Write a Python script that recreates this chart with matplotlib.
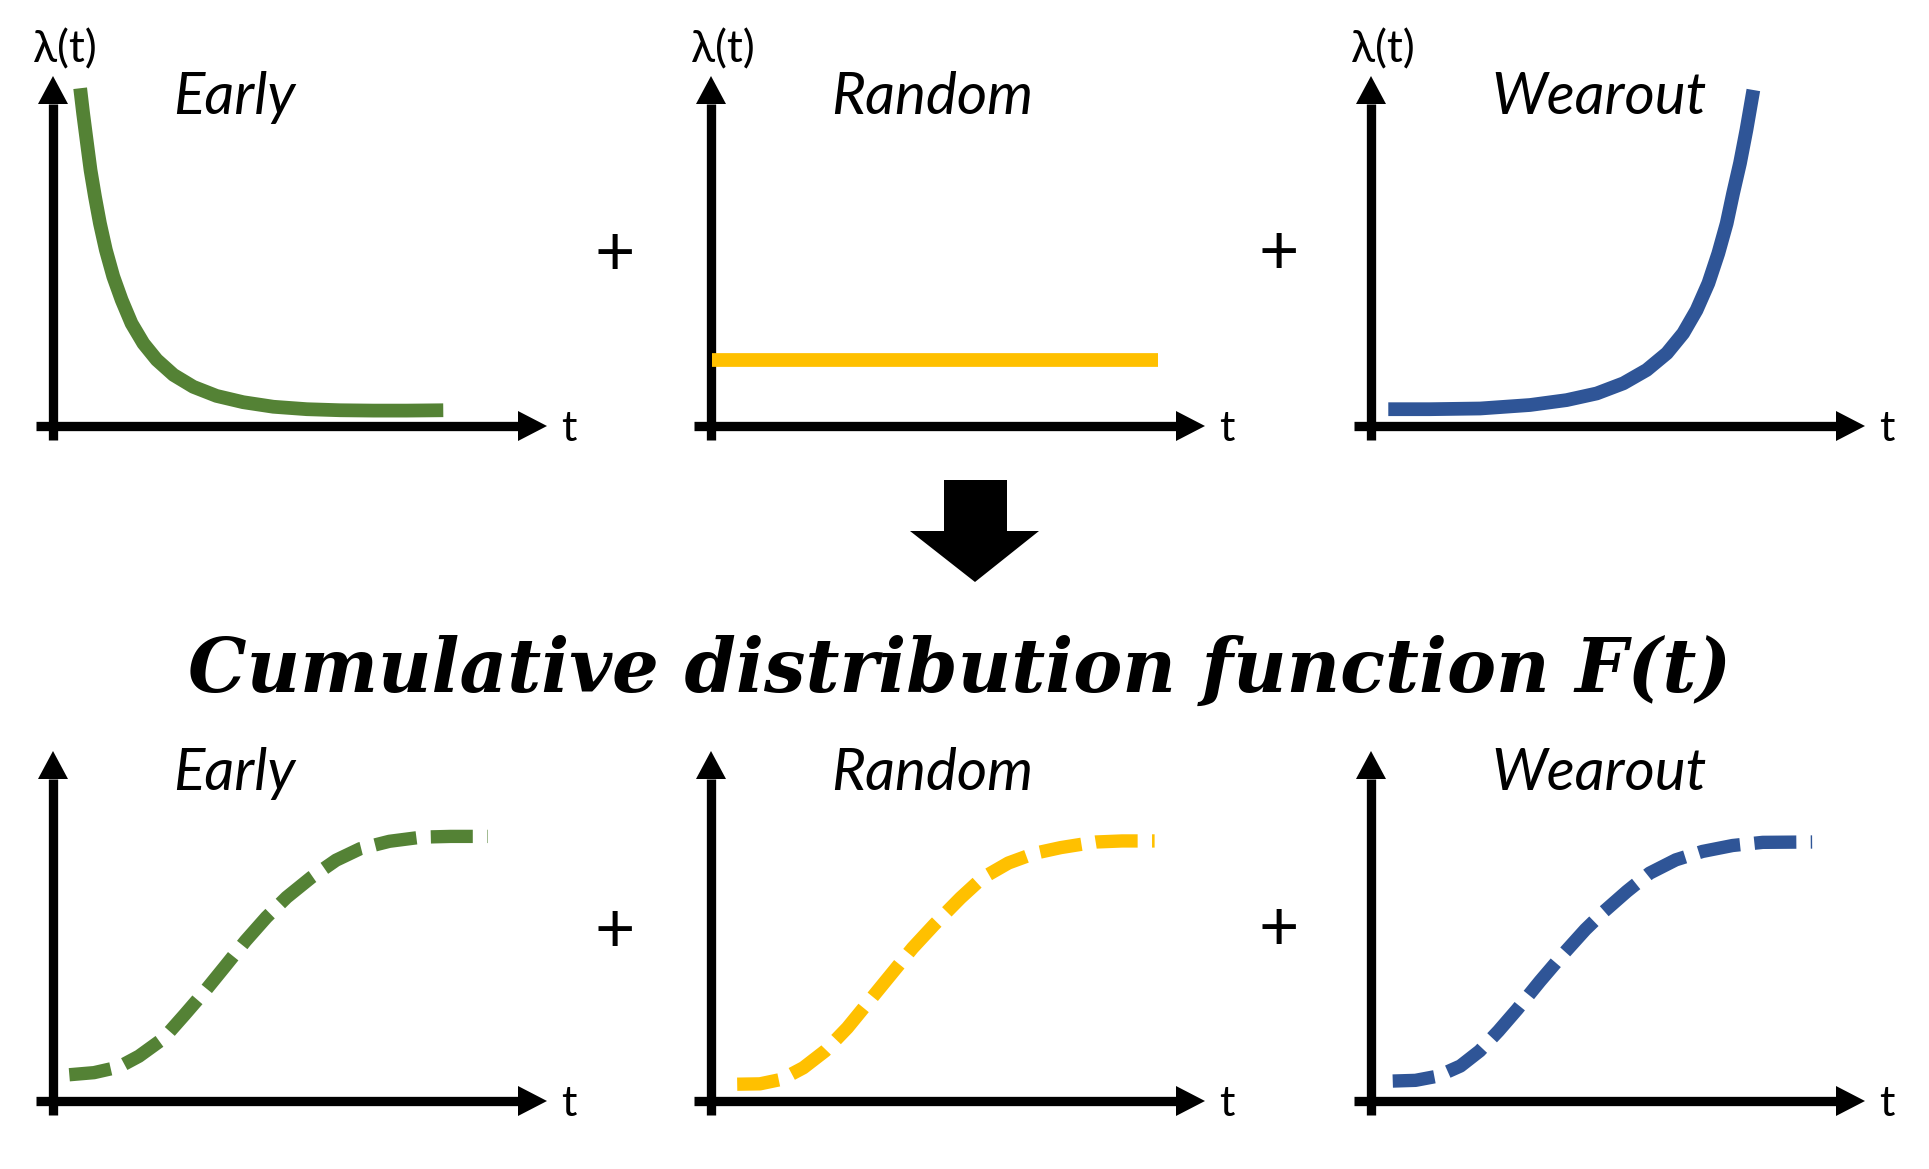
import matplotlib
matplotlib.use("Agg")
import matplotlib.pyplot as plt

# ---------------------------------------------------------------
# data (axes run 0..100 to the arrow tips)
# ---------------------------------------------------------------
early_t = [5.5, 6.1, 6.8, 7.6, 8.5, 9.5, 10.7, 12.2, 13.9, 15.9, 18.3, 21.0,
           24.4, 28.4, 33.1, 38.5, 44.6, 51.4, 58.1, 64.8, 71.6, 79.0]
early_h = [96.5, 89.3, 81.7, 73.1, 65.5, 57.9, 50.3, 42.7, 36.0, 29.3, 23.6, 18.9,
           14.6, 11.2, 8.6, 6.8, 5.5, 4.8, 4.5, 4.4, 4.4, 4.5]

random_t = [0.2, 90.5]
random_h = [19.0, 19.0]

wear_t = [3.5, 11.9, 22.1, 32.2, 39.6, 45.7, 51.1, 55.8, 59.9, 63.2, 65.9, 68.3,
          70.3, 72.0, 73.3, 74.7, 76.0, 77.4]
wear_h = [4.8, 4.8, 5.0, 6.0, 7.4, 9.3, 12.2, 16.0, 20.8, 26.5, 33.1, 40.8,
          49.3, 57.9, 66.5, 75.1, 84.6, 96.0]

cdf_early_t = [3.3, 8.3, 13.3, 17.4, 22.4, 26.6, 30.7, 34.9, 39.0, 43.2, 47.3, 52.3, 57.3, 62.2, 68.1, 74.7, 80.5, 88.0]
cdf_early_F = [7.5, 8.1, 9.7, 12.8, 17.9, 24.6, 31.3, 38.6, 45.8, 52.5, 58.2, 63.9, 68.8, 72.1, 74.2, 75.4, 75.6, 75.6]

cdf_random_t = [5.3, 9.9, 14.3, 18.7, 23.1, 27.6, 32.0, 36.4, 40.8, 45.2, 50.5, 54.9, 60.2, 65.6, 70.8, 77.9, 83.2, 89.8]
cdf_random_F = [4.8, 4.9, 6.2, 9.5, 14.3, 20.9, 28.5, 36.1, 43.7, 50.4, 58.0, 63.7, 68.0, 70.8, 72.4, 74.0, 74.3, 74.3]

cdf_wear_t = [4.4, 9.0, 13.5, 18.1, 22.0, 25.8, 29.6, 34.2, 38.8, 43.4, 47.2, 51.8, 56.4, 61.7, 67.1, 73.2, 79.3, 89.3]
cdf_wear_F = [5.7, 5.9, 7.1, 10.0, 14.3, 20.0, 26.2, 34.2, 41.8, 49.0, 54.2, 59.9, 65.1, 68.9, 71.3, 73.0, 73.9, 74.0]

labels = ["Early", "Random", "Wearout"]
colors = ["#548235", "#FFC000", "#2F5597"]
title = "Cumulative distribution function F(t)"

# ---------------------------------------------------------------
# layout (pixels)
# ---------------------------------------------------------------
W, H = 1929, 1169
PW, PH = 494, 350          # origin -> arrow tip
col_x = [53, 711, 1371]
row_y = [426, 1101]        # y of the t axis (from top)
UX, UY = PW / 100, PH / 100

AX_LW = 6.7
CURVE_LW = 9.9
SANS = ["Lato", "DejaVu Sans"]

fig = plt.figure(figsize=(W / 100, H / 100), dpi=100)
fig.patch.set_facecolor("white")

bg = fig.add_axes([0, 0, 1, 1])
bg.set_xlim(0, W)
bg.set_ylim(H, 0)
bg.axis("off")


def panel(ox, oy):
    ax = fig.add_axes([ox / W, 1 - oy / H, PW / W, PH / H])
    ax.set_xlim(0, 100)
    ax.set_ylim(0, 100)
    ax.axis("off")
    # t axis
    hl, hw = 29 / UX, 15 / UY
    ax.plot([-17 / UX, 100 - hl], [0, 0], color="black", lw=AX_LW,
            solid_capstyle="butt", clip_on=False)
    ax.fill([100 - hl, 100, 100 - hl], [-hw, 0, hw], color="black", lw=0, clip_on=False)
    # vertical axis
    hl, hw = 28 / UY, 15 / UX
    ax.plot([0, 0], [-14 / UY, 100 - hl], color="black", lw=AX_LW,
            solid_capstyle="butt", clip_on=False)
    ax.fill([-hw, 0, hw], [100 - hl, 100, 100 - hl], color="black", lw=0, clip_on=False)
    ax.text(100 + 14 / UX, -15 / UY, "t", ha="left", va="baseline",
            fontsize=31, family=SANS)
    return ax


# hazard rate row
hazard = [(early_t, early_h), (random_t, random_h), (wear_t, wear_h)]
for i, (tt, hh) in enumerate(hazard):
    ax = panel(col_x[i], row_y[0])
    ax.plot(tt, hh, color=colors[i], lw=CURVE_LW, solid_capstyle="butt",
            solid_joinstyle="round", clip_on=False)
    ax.text(-20 / UX, 364 / UY, "λ(t)", ha="left", va="baseline",
            fontsize=32, family=SANS)
    ax.text(120 / UX, 312 / UY, labels[i], ha="left", va="baseline",
            fontsize=42, family=SANS, style="italic")

# CDF row
cdf = [(cdf_early_t, cdf_early_F), (cdf_random_t, cdf_random_F), (cdf_wear_t, cdf_wear_F)]
for i, (tt, ff) in enumerate(cdf):
    ax = panel(col_x[i], row_y[1])
    ax.plot(tt, ff, color=colors[i], lw=9.6, ls=(0, (3.15, 1.08)),
            dash_capstyle="butt", solid_joinstyle="round", clip_on=False)
    ax.text(120 / UX, 311 / UY, labels[i], ha="left", va="baseline",
            fontsize=42, family=SANS, style="italic")

# plus signs between panels
for (px, py) in [(615, 252), (1279, 251), (615, 929), (1279, 927)]:
    bg.text(px, py + 23, "+", ha="center", va="baseline", fontsize=50, family=SANS)

# big down arrow
bg.fill([944, 1007, 1007, 1039, 975, 910, 944],
        [480, 480, 531, 531, 582, 531, 531], color="black", lw=0)

bg.text(960, 692, title, ha="center", va="baseline", fontsize=53,
        family="DejaVu Serif", weight="bold", style="italic")

fig.savefig("out.png", dpi=100, facecolor="white")
